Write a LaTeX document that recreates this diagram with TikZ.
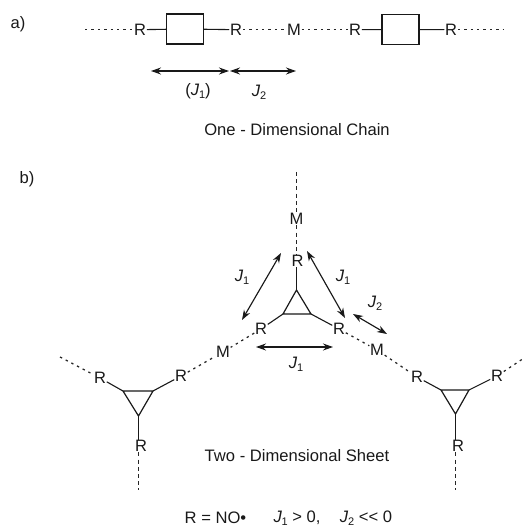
\documentclass[tikz,border=0pt]{standalone}
\usepackage{fontspec}
\setmainfont{Liberation Sans}
\usetikzlibrary{arrows.meta}
\newcommand{\Jx}[1]{\textit{J}\kern-0.3pt\raisebox{-3pt}{\fontsize{11}{11}\selectfont #1}}
\tikzset{
  atom/.style={font=\fontsize{16.5}{16.5}\selectfont,inner sep=0.6pt,text=black!90},
  lab/.style={font=\fontsize{16.6}{18}\selectfont,inner sep=0pt,text=black!90},
  bond/.style={line width=1.1pt,draw=black!90},
  tri/.style={line width=1.2pt,draw=black!90,line join=miter},
  dotsline/.style={line width=1.25pt,draw=black!85,dash pattern=on 2.4pt off 4pt},
  dashline/.style={line width=1pt,draw=black!85,dash pattern=on 4pt off 3.2pt},
  dbl/.style={line width=1.15pt,draw=black!90,{Stealth[length=10pt,width=7pt]}-{Stealth[length=10pt,width=7pt]}},
  squarebox/.style={draw=black!90,line width=1.1pt,inner sep=0pt,fill=white}
}
\begin{document}
\begin{tikzpicture}[x=1pt,y=-1pt]
\useasboundingbox (0,0) rectangle (524,529);
% a) chain
\node[lab] (la) at (18,24) {a)};
\coordinate (c0) at (85,29.7);
\node[atom] (r1) at (140,29.7) {R};
\node[squarebox,minimum width=37pt,minimum height=30pt] (b1) at (185,29) {};
\node[atom] (r2) at (236,29.7) {R};
\node[atom] (m0) at (294,29.7) {M};
\node[atom] (r3) at (355,29.7) {R};
\node[squarebox,minimum width=37pt,minimum height=30pt] (b2) at (400.5,29.5) {};
\node[atom] (r4) at (451,29.7) {R};
\coordinate (c1) at (503,29.7);
\draw[dotsline] (c0) -- (r1);
\draw[bond] (r1) -- (b1);
\draw[bond] (b1) -- (r2);
\draw[dotsline] (r2) -- (m0);
\draw[dotsline] (m0) -- (r3);
\draw[bond] (r3) -- (b2);
\draw[bond] (b2) -- (r4);
\draw[dotsline] (r4) -- (c1);
\coordinate (a1) at (151,71);
\coordinate (a2) at (229,71);
\coordinate (a3) at (230,71);
\coordinate (a4) at (296,71);
\draw[dbl] (a1) -- (a2);
\draw[dbl] (a3) -- (a4);
\node[lab] (j11) at (198,91) {(\Jx{1})};
\node[lab] (j12) at (259,92) {\Jx{2}};
\node[lab] (t1) at (297,130) {One - Dimensional Chain};
% b) sheet
\node[lab] (lb) at (27,179) {b)};
% centre unit
\coordinate (top) at (296.5,172);
\node[atom] (mt) at (296.5,219) {M};
\node[atom] (rt) at (297.5,261) {R};
\coordinate (ca) at (296.5,290);
\coordinate (cl) at (283,314);
\coordinate (cr) at (311,314);
\node[atom] (rl) at (261,329) {R};
\node[atom] (rr) at (339,329) {R};
\node[atom] (ml) at (223,352) {M};
\node[atom] (mr) at (377,350) {M};
\draw[dashline] (top) -- (mt);
\draw[dashline] (mt) -- (rt.north -| mt);
\draw[bond] (rt.south -| ca) -- (ca);
\draw[tri] (ca) -- (cl) -- (cr) -- cycle;
\draw[bond] (cl) -- (rl);
\draw[bond] (cr) -- (rr);
\draw[dotsline] (rl) -- (ml);
\draw[dotsline] (rr) -- (mr);
% left unit
\coordinate (lf) at (60,357);
\node[atom] (l1) at (100,378) {R};
\node[atom] (l2) at (181,376) {R};
\node[atom] (l3) at (141,446) {R};
\coordinate (la1) at (138.5,416);
\coordinate (ll1) at (123,391);
\coordinate (lr1) at (153,391);
\coordinate (ld) at (138.5,490);
\draw[tri] (la1) -- (ll1) -- (lr1) -- cycle;
\draw[bond] (ll1) -- (l1);
\draw[bond] (lr1) -- (l2);
\draw[bond] (la1) -- (l3.north -| la1);
\draw[dotsline] (lf) -- (l1);
\draw[dotsline] (l2) -- (ml);
\draw[dashline] (l3.south -| ld) -- (ld);
% right unit
\node[atom] (q1) at (417,377) {R};
\node[atom] (q2) at (497,376) {R};
\node[atom] (q3) at (458,446) {R};
\coordinate (qa) at (455.5,414);
\coordinate (ql) at (441,390);
\coordinate (qr) at (469,390);
\coordinate (qf) at (524,358);
\coordinate (qd) at (455.5,490);
\draw[tri] (qa) -- (ql) -- (qr) -- cycle;
\draw[bond] (ql) -- (q1);
\draw[bond] (qr) -- (q2);
\draw[bond] (qa) -- (q3.north -| qa);
\draw[dotsline] (mr) -- (q1);
\draw[dotsline] (q2) -- (qf);
\draw[dashline] (q3.south -| qd) -- (qd);
% exchange arrows
\coordinate (e1) at (281,253);
\coordinate (e2) at (242,320);
\coordinate (e3) at (307,251);
\coordinate (e4) at (345,318);
\coordinate (e5) at (353,314);
\coordinate (e6) at (387,334);
\coordinate (e7) at (256,347);
\coordinate (e8) at (333,347);
\draw[dbl] (e1) -- (e2);
\draw[dbl] (e3) -- (e4);
\draw[dbl] (e5) -- (e6);
\draw[dbl] (e7) -- (e8);
\node[lab] (j1a) at (242,277) {\Jx{1}};
\node[lab] (j1b) at (343,277) {\Jx{1}};
\node[lab] (j2a) at (375,303) {\Jx{2}};
\node[lab] (j1c) at (296,364) {\Jx{1}};
\node[lab] (t2) at (297,456) {Two - Dimensional Sheet};
\node[lab] (eq1) at (215.5,518) {R = NO•};
\node[lab] (eq2) at (297,518) {\Jx{1} > 0,};
\node[lab] (eq3) at (366,518) {\Jx{2} {<}{<} 0};
\end{tikzpicture}
\end{document}
